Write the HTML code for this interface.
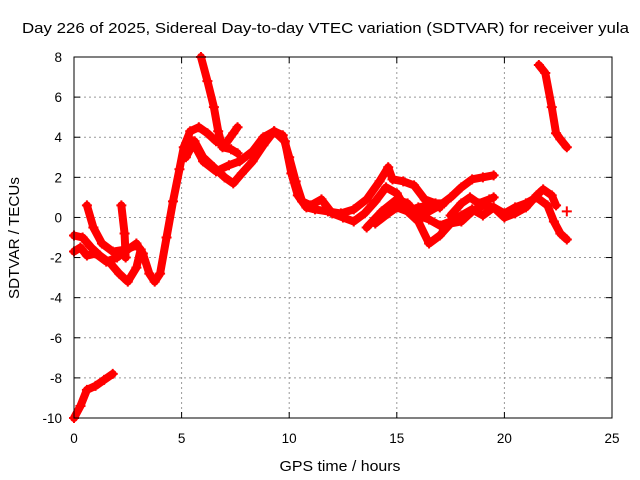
<!DOCTYPE html>
<html><head><meta charset="utf-8"><style>
body{margin:0;background:#fff}
svg{display:block;font-family:"Liberation Sans",sans-serif}
</style></head><body>
<svg id="chart" width="640" height="480" xmlns="http://www.w3.org/2000/svg">
<text x="22" y="33" font-size="14.5" textLength="607" lengthAdjust="spacingAndGlyphs">Day 226 of 2025, Sidereal Day-to-day VTEC variation (SDTVAR) for receiver yula</text>
<text transform="translate(19,238) rotate(-90)" font-size="14.5" text-anchor="middle" textLength="122" lengthAdjust="spacingAndGlyphs">SDTVAR / TECUs</text>
<text x="340" y="471" font-size="14.5" text-anchor="middle" textLength="121" lengthAdjust="spacingAndGlyphs">GPS time / hours</text>
<g id="grid"></g><g id="ticks"></g><g id="marks"></g>
<rect x="74" y="57" width="538" height="361" fill="none" stroke="#000" stroke-width="1"/>
</svg>
<script>
const xTicks=[0,5,10,15,20,25];
const yTicks=[-10,-8,-6,-4,-2,0,2,4,6,8];
const track1=[[0,-1.7],[0.3,-1.5],[0.6,-1.9],[1,-1.8],[1.5,-2.2],[2,-2.0],[2.5,-1.6],[2.9,-1.3],[3.2,-1.8],[3.5,-2.8],[3.75,-3.2],[4,-2.8],[4.3,-1],[4.6,0.8],[4.9,2.4],[5.1,3.5],[5.4,4.3],[5.8,4.5],[6.2,4.2],[6.6,3.8],[7,3.6],[7.4,4.2],[7.6,4.5]];
const track2=[[0,-0.9],[0.4,-1],[0.8,-1.5],[1.2,-1.9],[1.7,-2.3],[2.1,-2.8],[2.5,-3.2],[2.9,-2.5],[3.1,-1.6]];
const track3=[[0.6,0.6],[0.9,-0.5],[1.3,-1.3],[1.8,-1.7],[2.4,-1.6],[2.9,-1.4]];
const track4=[[2.2,0.6],[2.35,-0.8],[2.4,-2]];
const track5=[[5.2,3.0],[5.6,3.8],[6,3],[6.5,2.5],[7,2.0],[7.4,1.7],[7.8,2.2],[8.3,2.8],[8.8,3.6],[9.3,4.3],[9.7,4.1],[10,3],[10.3,1.8],[10.6,0.8],[11,0.6],[11.5,0.9],[12,0.2],[12.5,0],[13,-0.2],[13.5,0.2],[14,0.8],[14.5,1.5],[15,1.2],[15.5,0.3],[16,0.5],[16.5,0.6],[17,0.5]];
const track6=[[5.5,3.8],[6,2.8],[6.6,2.3],[7.2,2.6],[7.7,2.8],[8.3,3.3],[8.8,4.0],[9.3,4.3],[9.8,3.8],[10.1,2.2],[10.4,1.1],[10.8,0.5],[11.2,0.4],[11.8,0.3],[12.4,0.2],[13,0.4],[13.6,0.9],[14.2,1.8],[14.6,2.5],[14.8,1.9],[15.3,1.8],[15.8,1.6],[16.3,0.9],[16.8,0.7],[17.2,0.7]];
const track7=[[14,-0.3],[14.6,0.2],[15,0.5],[15.5,0.3],[16,-0.2],[16.5,-1.3],[17,-0.9],[17.5,-0.3],[18,-0.2],[18.5,0.3],[19,0.6],[19.5,0.5],[20,0.2],[20.5,0.5],[21,0.7],[21.5,1.0],[22,0.6],[22.3,-0.2],[22.6,-0.8],[22.9,-1.1]];
const track8=[[13.6,-0.5],[14.3,0.3],[15,0.9],[15.5,0.7],[16,0.1],[16.5,-0.1],[17,-0.4],[17.5,-0.2],[18,0.1],[18.5,0.4],[19,0.1],[19.5,0.5],[20,0],[20.5,0.2],[21,0.5],[21.5,1.1],[21.8,1.4],[22.2,1.1],[22.4,0.6]];
const track9=[[16,0.2],[16.5,0.3],[17,0.6],[17.5,1.0],[18,1.5],[18.5,1.9],[19,2.0],[19.5,2.1]];
const track10=[[17.5,0.1],[18,0.7],[18.4,1.0],[18.8,0.7],[19.3,0.9],[19.5,1.0]];
const track11=[[5.9,8],[6.2,6.8],[6.5,5.5],[6.7,4.3],[6.9,3.5],[7.3,3.4],[7.6,3.2]];
const track12=[[0,-10],[0.3,-9.4],[0.6,-8.6],[1,-8.4],[1.4,-8.1],[1.8,-7.8]];
const track13=[[21.6,7.6],[21.9,7.2],[22.2,5.5],[22.4,4.2],[22.6,3.9],[22.9,3.5]];
const track14=[[22.9,0.3]];
const tracks=[track1,track2,track3,track4,track5,track6,track7,track8,track9,track10,track11,track12,track13,track14];
const X0=74,X1=612,Y0=418,Y1=57;
function sx(t){return X0+(t-0)/(25-0)*(X1-X0);}
function sy(v){return Y0-(v+10)/(18)*(Y0-Y1);}
const NS="http://www.w3.org/2000/svg";
const grid=document.getElementById('grid'),ticks=document.getElementById('ticks'),marks=document.getElementById('marks');
function mk(tag,attrs,parent){const e=document.createElementNS(NS,tag);for(const k in attrs)e.setAttribute(k,attrs[k]);parent.appendChild(e);return e;}
xTicks.forEach(t=>{
  const x=sx(t);
  if(t>0&&t<25){const g=mk('line',{x1:x,x2:x,y1:Y1,y2:Y0,stroke:'#999','stroke-dasharray':'2,3'},grid);
  
  }
  mk('line',{x1:x,x2:x,y1:Y0,y2:Y0-6,stroke:'#000'},ticks);
  mk('line',{x1:x,x2:x,y1:Y1,y2:Y1+6,stroke:'#000'},ticks);
  const l=mk('text',{x:x,y:Y0+25,'font-size':'13.5','text-anchor':'middle'},ticks);l.textContent=t;
  
  
});
yTicks.forEach(v=>{
  const y=sy(v);
  if(v>-10&&v<8){const g=mk('line',{x1:X0,x2:X1,y1:y,y2:y,stroke:'#999','stroke-dasharray':'2,3'},grid);
  
  }
  mk('line',{x1:X0,x2:X0+6,y1:y,y2:y,stroke:'#000'},ticks);
  mk('line',{x1:X1,x2:X1-6,y1:y,y2:y,stroke:'#000'},ticks);
  const l=mk('text',{x:X0-12,y:y+5,'font-size':'13.5','text-anchor':'end'},ticks);l.textContent=v;
  
  
});
tracks.forEach((tr,i)=>{
  if(tr.length>1){
    const p=mk('polyline',{points:tr.map(d=>sx(d[0])+','+sy(d[1])).join(' '),fill:'none',stroke:'#f00','stroke-width':'8','stroke-linejoin':'round','stroke-linecap':'round'},marks);
    
    
  }
  tr.forEach(d=>{
    const x=sx(d[0]),y=sy(d[1]);
    const m=mk('path',{d:`M${x-5},${y}H${x+5}M${x},${y-5}V${y+5}`,stroke:'#f00','stroke-width':'2'},marks);
    
    
  });
});
</script>
</body></html>
